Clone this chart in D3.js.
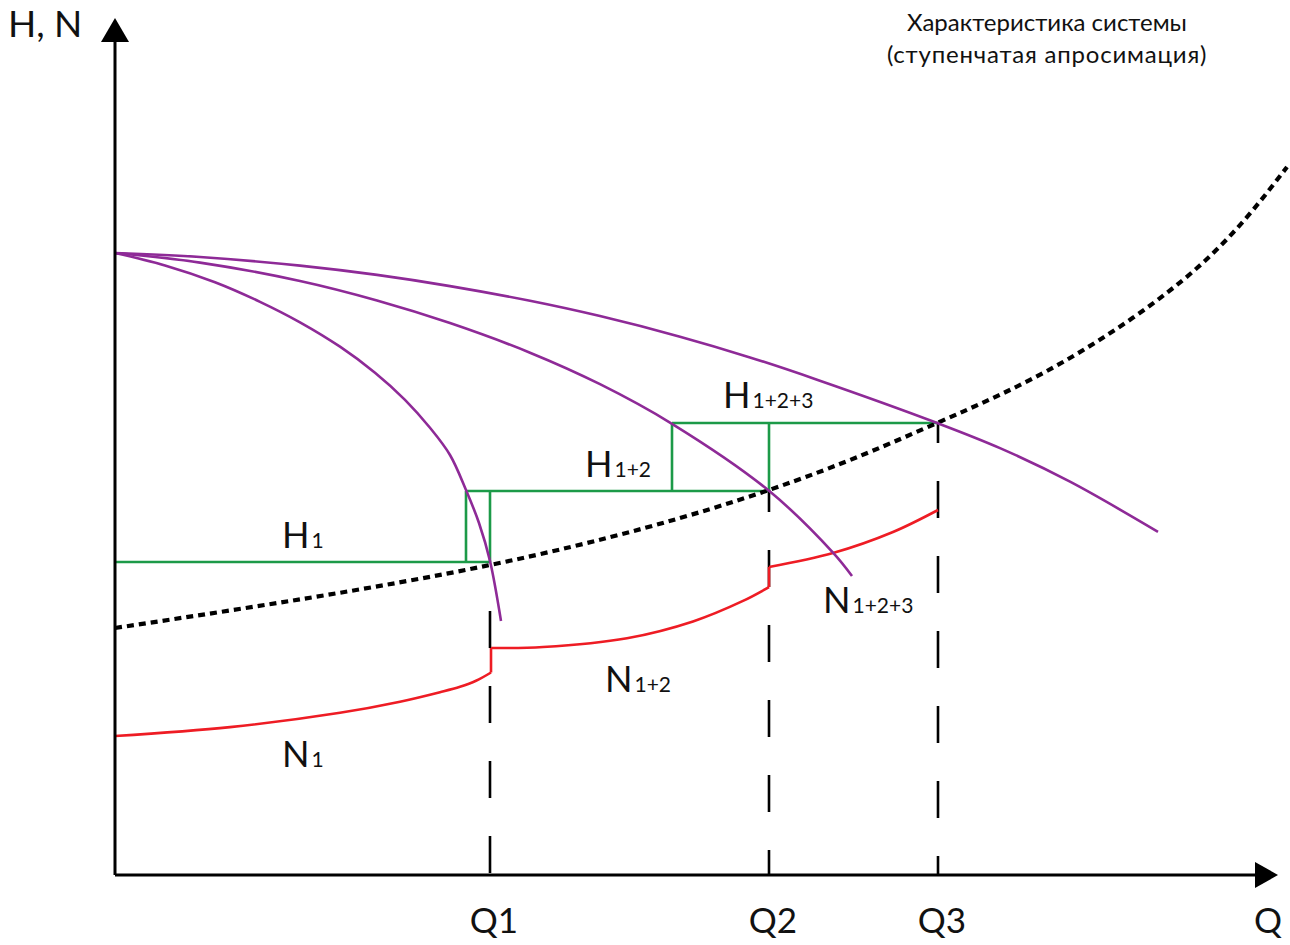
<!DOCTYPE html>
<html><head><meta charset="utf-8">
<script src="https://cdn.jsdelivr.net/npm/d3@7"></script>
<style>
html,body{margin:0;padding:0;background:#fff;}
svg{display:block;}
text{font-family:Lato,"Open Sans",sans-serif;fill:#111;}
</style></head>
<body>
<svg id="chart" width="1290" height="945"></svg>
<script>
// ---- data (Q and H/N in chart units) ----
const qMarks = [37.5, 65.4, 82.3];
const qLabels = ["Q1", "Q2", "Q3"];
const hLevels = [31.3, 38.4, 45.2];
const stepStarts = [0, 35.1, 55.7];
const stepEnds = [37.5, 65.4, 82.3];
const systemCurve = [[0,24.7],[37.5,31.0],[65.4,38.5],[82.2,45.2],[94.8,51.3],[108.2,60.7],[117.2,70.8]];
const pumpH1 = [[0,62.2],[5,60.96],[10,59.28],[14.5,57.32],[18.5,55.27],[22.5,52.83],[26,50.23],[29,47.52],[31.5,44.72],[33.5,42.0],[35.1,38.5],[36.4,35.2],[37.5,31.4],[38.6,25.4]];
const pumpH12 = [[0,62.2],[8.5,61.24],[18.5,59.4],[26.2,57.45],[33.5,55.19],[41.5,52.23],[48.5,49.08],[55.7,45.12],[65.4,38.42],[71.8,32.24],[73.7,29.9]];
const pumpH123 = [[0,62.2],[8.5,61.8],[18.5,60.94],[26.2,60.01],[33.5,58.89],[41.5,57.42],[48.5,55.89],[56.5,53.83],[63.5,51.76],[70.2,49.53],[82.3,45.17],[88.5,42.69],[95.5,39.33],[104.3,34.31]];
const powerN1 = [[0,13.9],[11.5,14.79],[22.5,16.22],[28.5,17.33],[32.5,18.28],[34.5,18.82],[36.1,19.42],[37.6,20.25]];
const powerN12 = [[37.6,22.7],[42.8,22.8],[51.2,23.68],[57.8,25.36],[62.8,27.41],[65.4,28.79]];
const powerN123 = [[65.4,30.8],[71.8,32.2],[77.8,34.3],[82.3,36.5]];
const dropTops = [26.4, 38.5, 45.2];
const curveLabels = [
  {main:"H", sub:"1", q:16.7, v:32.7},
  {main:"H", sub:"1+2", q:47.0, v:39.8},
  {main:"H", sub:"1+2+3", q:60.8, v:46.7},
  {main:"N", sub:"1", q:16.7, v:10.8},
  {main:"N", sub:"1+2", q:49.0, v:18.3},
  {main:"N", sub:"1+2+3", q:70.8, v:26.2}
];
const titleLines = ["Характеристика системы", "(ступенчатая апросимация)"];
const yAxisLabel = "H, N";
const xAxisLabel = "Q";

// ---- scales ----
const x = d3.scaleLinear().domain([0, 116]).range([115, 1275]);
const y = d3.scaleLinear().domain([0, 86]).range([875, 15]);
const svg = d3.select("#chart");

const PURPLE = "#8E2A97", GREEN = "#1C9A48", RED = "#EE1C24";
const smooth = d3.line().x(d => x(d[0])).y(d => y(d[1])).curve(d3.curveCatmullRom.alpha(0.5));
const straight = d3.line().x(d => x(d[0])).y(d => y(d[1]));

// green step lines
const g = svg.append("g").attr("stroke", GREEN).attr("stroke-width", 2.6).attr("fill", "none");
hLevels.forEach((h, i) => {
  g.append("path").attr("d", straight([[stepStarts[i], h], [stepEnds[i], h]]));
  if (i < hLevels.length - 1) {
    g.append("path").attr("d", straight([[stepStarts[i+1], h], [stepStarts[i+1], hLevels[i+1]]]));
    g.append("path").attr("d", straight([[stepEnds[i], h], [stepEnds[i], hLevels[i+1]]]));
  }
});

// vertical dashed lines
const dashOffsets = [0, 15, 17];
qMarks.forEach((q, i) => {
  svg.append("path").attr("d", straight([[q, dropTops[i]], [q, 0]]))
    .attr("stroke", "#000").attr("stroke-width", 2.6).attr("fill", "none")
    .attr("stroke-dasharray", "37,38").attr("stroke-dashoffset", dashOffsets[i]);
});

// red power curves
const r = svg.append("g").attr("stroke", RED).attr("stroke-width", 2.6).attr("fill", "none");
const nCurves = [powerN1, powerN12, powerN123];
nCurves.forEach((c, i) => {
  r.append("path").attr("d", smooth(c));
  if (i < nCurves.length - 1) {
    const a = c[c.length - 1], b = nCurves[i+1][0];
    r.append("path").attr("d", straight([[b[0], a[1]], b]));
  }
});

// system curve (dotted)
svg.append("path").attr("d", d3.line().x(d => x(d[0])).y(d => y(d[1])).curve(d3.curveNatural)(systemCurve))
  .attr("stroke", "#000").attr("stroke-width", 4.2).attr("fill", "none")
  .attr("stroke-dasharray", "7,5");

// pump curves
[pumpH1, pumpH12, pumpH123].forEach(c => {
  svg.append("path").attr("d", smooth(c)).attr("stroke", PURPLE)
    .attr("stroke-width", 2.6).attr("fill", "none");
});

// axes
svg.append("path").attr("d", straight([[0, 0], [0, 83.3]])).attr("stroke", "#000").attr("stroke-width", 3);
svg.append("path").attr("d", straight([[0, 0], [114, 0]])).attr("stroke", "#000").attr("stroke-width", 3);
svg.append("path").attr("fill", "#000")
  .attr("d", `M${x(0)},${y(85.7)} L${x(0)-14},${y(83.3)} L${x(0)+14},${y(83.3)} Z`);
svg.append("path").attr("fill", "#000")
  .attr("d", `M${x(116.3)},${y(0)} L${x(114)},${y(0)-13} L${x(114)},${y(0)+13} Z`);

// axis labels
svg.append("text").attr("x", 8).attr("y", 37).attr("font-size", 37).text(yAxisLabel);
svg.append("text").attr("x", x(115.3)).attr("y", 933).attr("font-size", 35).attr("text-anchor", "middle").text(xAxisLabel);
qMarks.forEach((q, i) => {
  svg.append("text").attr("x", x(q) + 4).attr("y", 933).attr("font-size", 35)
    .attr("text-anchor", "middle").text(qLabels[i]);
});

// curve labels
curveLabels.forEach(l => {
  const t = svg.append("text").attr("x", x(l.q)).attr("y", y(l.v)).attr("font-size", 36);
  t.append("tspan").text(l.main);
  t.append("tspan").attr("font-size", 21).attr("dx", 2).text(l.sub);
});

// title
titleLines.forEach((s, i) => {
  svg.append("text").attr("x", 1047).attr("y", 31 + i * 32).attr("font-size", 24)
    .attr("letter-spacing", i === 1 ? 0.8 : 0)
    .attr("text-anchor", "middle").attr("fill", "#222").text(s);
});
</script>
</body></html>
